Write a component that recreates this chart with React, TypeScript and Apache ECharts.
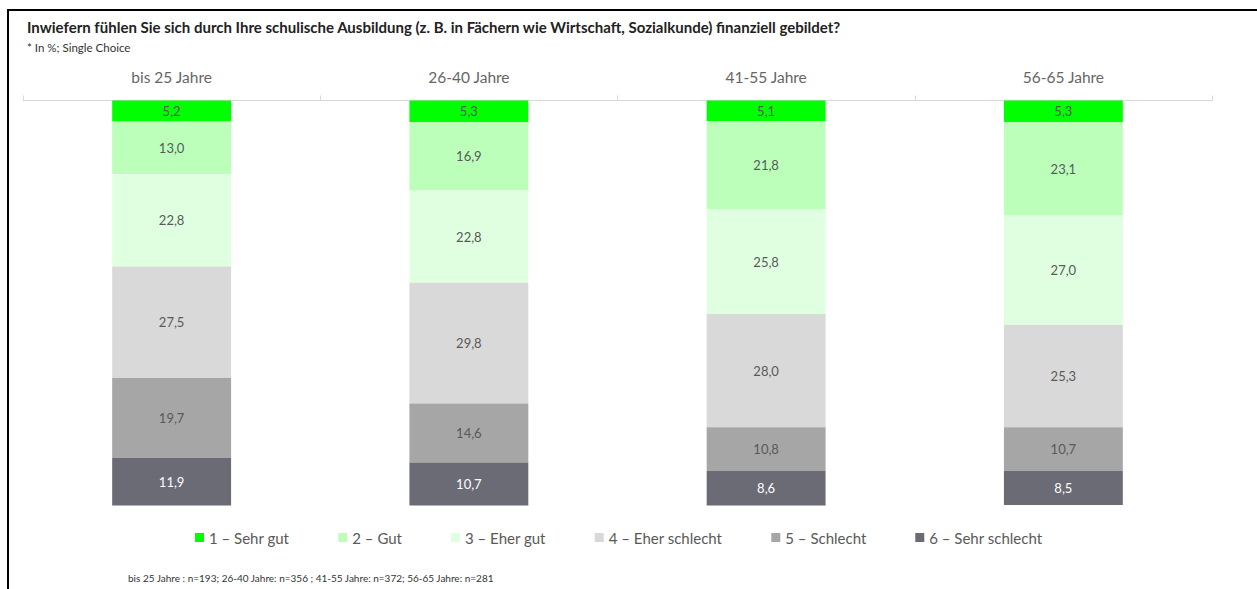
import React, { useEffect, useRef } from "react";
import * as echarts from "echarts";

const categories = ["bis 25 Jahre", "26-40 Jahre", "41-55 Jahre", "56-65 Jahre"];
const seriesNames = [
  "1 – Sehr gut",
  "2 – Gut",
  "3 – Eher gut",
  "4 – Eher schlecht",
  "5 – Schlecht",
  "6 – Sehr schlecht",
];
const sehrGut = [5.2, 5.3, 5.1, 5.3];
const gut = [13.0, 16.9, 21.8, 23.1];
const eherGut = [22.8, 22.8, 25.8, 27.0];
const eherSchlecht = [27.5, 29.8, 28.0, 25.3];
const schlecht = [19.7, 14.6, 10.8, 10.7];
const sehrSchlecht = [11.9, 10.7, 8.6, 8.5];
const seriesValues = [sehrGut, gut, eherGut, eherSchlecht, schlecht, sehrSchlecht];
const colors = ["#00ff00", "#bbffbb", "#e0ffe0", "#d9d9d9", "#a6a6a6", "#6b6b75"];
const labelColors = ["#595959", "#595959", "#595959", "#595959", "#595959", "#ffffff"];

const titleText =
  "Inwiefern fühlen Sie sich durch Ihre schulische Ausbildung (z. B. in Fächern wie Wirtschaft, Sozialkunde) finanziell gebildet?";
const subText = "* In %; Single Choice";
const footnote =
  "bis 25 Jahre : n=193; 26-40 Jahre: n=356 ; 41-55 Jahre: n=372; 56-65 Jahre: n=281";

const FONT = "Lato, 'Noto Sans', sans-serif";

export default function App() {
  const ref = useRef<HTMLDivElement>(null);
  useEffect(() => {
    if (!ref.current) return;
    const chart = echarts.init(ref.current, null, { renderer: "svg" });
    chart.setOption({
      animation: false,
      backgroundColor: "#ffffff",
      textStyle: { fontFamily: FONT },
      title: [
        {
          text: titleText,
          left: 22,
          top: 14,
          textStyle: { fontSize: 15, fontWeight: "bold", color: "#222", fontFamily: FONT },
        },
        {
          text: subText,
          left: 22,
          top: 36,
          textStyle: { fontSize: 11.5, fontWeight: "normal", color: "#333", fontFamily: FONT },
        },
      ],
      legend: {
        left: 190,
        top: 525,
        itemWidth: 9,
        itemHeight: 9,
        itemGap: 49,
        icon: "rect",
        textStyle: { fontSize: 15, color: "#595959", fontFamily: FONT },
        data: seriesNames,
      },
      grid: { left: 23, right: 45, top: 100.5, bottom: 83.5 },
      xAxis: {
        type: "category",
        position: "top",
        data: categories,
        axisLine: { show: true, lineStyle: { color: "#d9d9d9", width: 1 } },
        axisTick: { show: true, length: 5, lineStyle: { color: "#d9d9d9", width: 1 } },
        axisLabel: { fontSize: 15.5, color: "#666", margin: 16, fontFamily: FONT },
      },
      yAxis: {
        type: "value",
        inverse: true,
        min: 0,
        max: 100,
        show: false,
        splitLine: { show: false },
      },
      series: seriesValues.map((vals, i) => ({
        name: seriesNames[i],
        type: "bar",
        stack: "total",
        barWidth: "40%",
        data: vals,
        itemStyle: { color: colors[i] },
        label: {
          show: true,
          position: "inside",
          color: labelColors[i],
          fontSize: 13,
          fontFamily: FONT,
          formatter: (p: any) => Number(p.value).toFixed(1).replace(".", ","),
        },
      })),
      graphic: [
        {
          type: "line",
          shape: { x1: 8, y1: 10, x2: 1257, y2: 10 },
          style: { stroke: "#000", lineWidth: 2 },
        },
        {
          type: "line",
          shape: { x1: 8, y1: 9, x2: 8, y2: 589 },
          style: { stroke: "#000", lineWidth: 2 },
        },
        {
          type: "text",
          x: 128,
          y: 578,
          style: {
            text: footnote,
            fontSize: 10,
            fill: "#333",
            fontFamily: FONT,
            verticalAlign: "middle",
          },
        },
      ],
    });
    return () => chart.dispose();
  }, []);
  return (
    <div
      ref={ref}
      style={{ position: "fixed", left: 0, top: 0, width: 1257, height: 589 }}
    />
  );
}
